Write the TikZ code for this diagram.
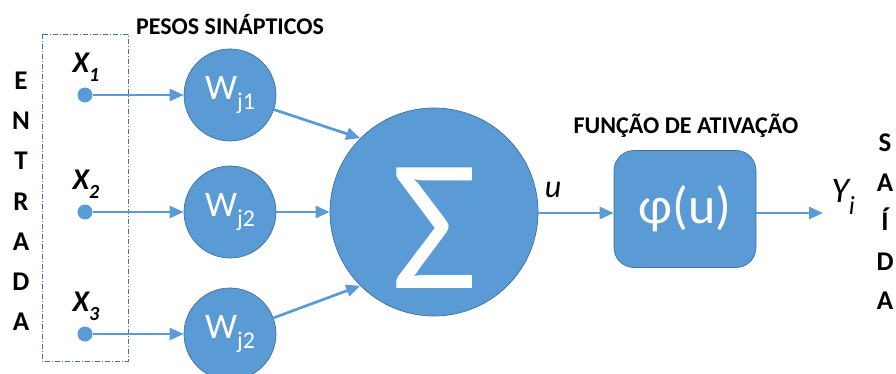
\documentclass[tikz,border=0pt]{standalone}
\usepackage{fontspec}
\setmainfont{Carlito}
\usetikzlibrary{arrows.meta}
\definecolor{azul}{HTML}{5B9BD5}
\definecolor{azulesc}{HTML}{41719C}
\tikzstyle{arrow} = [-{Triangle[length=14pt,width=12pt]},line width=2.7pt,draw=azul]
\tikzstyle{ponto} = [circle,fill=azul,minimum size=15pt,inner sep=0pt]
\tikzstyle{peso} = [circle,draw=azulesc,fill=azul,line width=0.7pt,minimum size=92pt,inner sep=0pt,text=white,font=\fontsize{36}{36}\selectfont]
\tikzstyle{soma} = [circle,draw=azulesc,fill=azul,line width=0.7pt,minimum size=208pt,inner sep=0pt]
\tikzstyle{ativ} = [rectangle,rounded corners=20pt,draw=azulesc,fill=azul,line width=0.7pt,minimum width=142pt,minimum height=117pt,text=white,font=\fontsize{52}{52}\selectfont]
\tikzstyle{letra} = [anchor=base,inner sep=0pt,font=\fontsize{27}{27}\selectfont\bfseries]
\tikzstyle{titulo} = [anchor=base,inner sep=0pt,font=\fontsize{24}{24}\selectfont\bfseries]
\newcommand{\ind}[1]{\raisebox{-0.3em}{\fontsize{24}{24}\selectfont #1}}

\begin{document}
\begin{tikzpicture}[x=1pt,y=-1pt]
        \useasboundingbox (0,0) rectangle (896,374);
        \draw[azulesc,line width=0.8pt,dash pattern=on 5pt off 2pt on 1pt off 2pt] (42,34) rectangle (128,361);
        \foreach \l [count=\i] in {E,N,T,R,A,D,A}
            \node[letra] at (21,50+40*\i) (e\i) {\l};
        \foreach \l [count=\i] in {S,A,Í,D,A}
            \node[letra] at (885,112+39.5*\i) (s\i) {\l};
        \node[titulo] at (230,35) (pesos) {PESOS SINÁPTICOS};
        \node[titulo] at (686,134) (funcao) {FUNÇÃO DE ATIVAÇÃO};

        \node[ponto] at (85,95) (x1) {};
        \node[ponto] at (85,212) (x2) {};
        \node[ponto] at (85,334) (x3) {};
        \node at (86,67) (lx1) {\fontsize{30}{30}\selectfont\bfseries\itshape X\raisebox{-0.3em}{\fontsize{20}{20}\selectfont 1}};
        \node at (86,184) (lx2) {\fontsize{30}{30}\selectfont\bfseries\itshape X\raisebox{-0.3em}{\fontsize{20}{20}\selectfont 2}};
        \node at (86,306) (lx3) {\fontsize{30}{30}\selectfont\bfseries\itshape X\raisebox{-0.3em}{\fontsize{20}{20}\selectfont 3}};

        \node[peso] at (230,95) (w1) {W\ind{j1}};
        \node[peso] at (230,212) (w2) {W\ind{j2}};
        \node[peso] at (230,334) (w3) {W\ind{j2}};
        \node[soma] at (434,212) (sum) {};
        \node[text=white,inner sep=0pt] at (435,228) (sigma) {\fontsize{188}{188}\selectfont Σ};
        \node[ativ] at (685,209) (ativ) {φ(u)};
        \coordinate (saida) at (823,213);
        \node at (553,190) (u) {\fontsize{32}{32}\selectfont\itshape u};
        \node at (843,197) (y) {\fontsize{36}{36}\selectfont\itshape Y\raisebox{-0.35em}{\fontsize{26}{26}\selectfont i}};

        \draw[arrow] (x1) -- (w1);
        \draw[arrow] (x2) -- (w2);
        \draw[arrow] (x3) -- (w3);
        \draw[arrow] (w1) -- (sum.135);
        \draw[arrow] (w2) -- (sum);
        \draw[arrow] (w3) -- (sum.225);
        \draw[arrow] (sum.east |- saida) -- (ativ.west |- saida);
        \draw[arrow] (ativ.east |- saida) -- (saida);
\end{tikzpicture}
\end{document}
